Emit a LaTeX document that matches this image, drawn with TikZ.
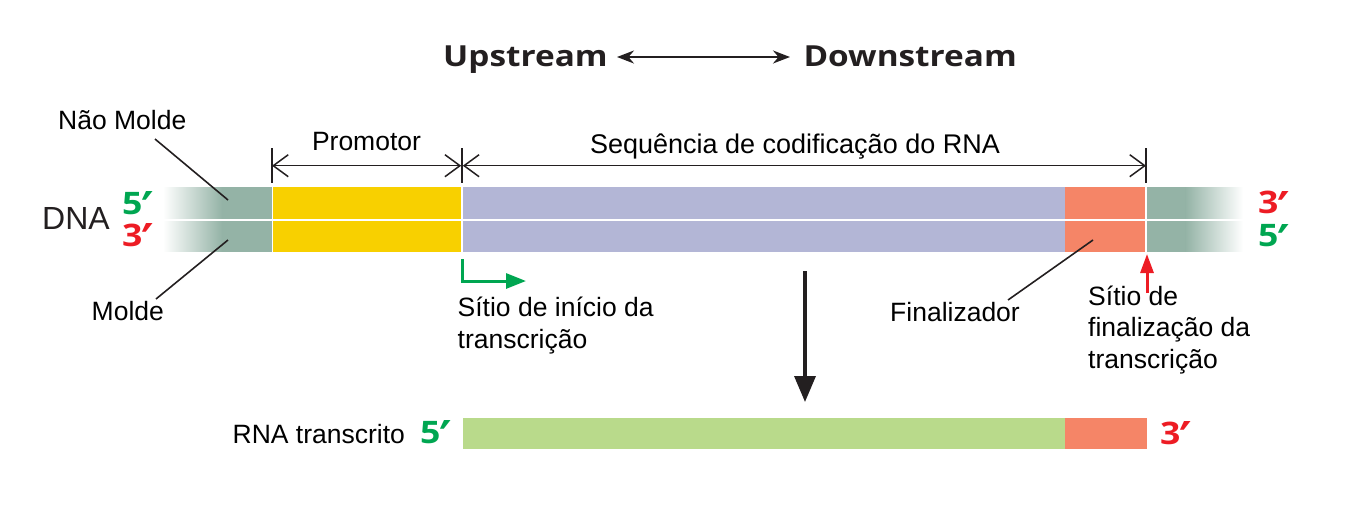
\documentclass[tikz,border=0pt]{standalone}
\usepackage{fontspec}
\setmainfont{Liberation Sans}
\newfontfamily\hdfont{Open Sans}[FakeStretch=1.15]
\newfontfamily\primefont{DejaVu Sans}
\newcommand\prm{\kern-1pt\raisebox{-12.5pt}[0pt][0pt]{\primefont\bfseries\fontsize{48}{50}\selectfont ′}\hspace{2pt}}
\usetikzlibrary{arrows.meta}
\definecolor{tealx}{HTML}{94B3A6}
\definecolor{yellowx}{HTML}{F8D000}
\definecolor{purplex}{HTML}{B3B6D6}
\definecolor{orangex}{HTML}{F58567}
\definecolor{rnagreen}{HTML}{B9DA8B}
\definecolor{primegreen}{HTML}{00A651}
\definecolor{primered}{HTML}{ED1C24}
\definecolor{darkline}{HTML}{231F20}
\begin{document}
\begin{tikzpicture}[x=1pt,y=-1pt,
  lbl/.style={font=\fontsize{26.5}{31.5}\selectfont, inner sep=0pt, align=left},
  hd/.style={font=\hdfont\bfseries\fontsize{29}{34}\selectfont, inner sep=0pt, text=darkline},
  prime/.style={font=\hdfont\bfseries\fontsize{31}{36}\selectfont, inner sep=0pt},
  pointer/.style={draw=darkline, line width=1.6pt},
  dimline/.style={draw=darkline, line width=1.5pt, {Straight Barb[length=15pt,width=22pt]}-{Straight Barb[length=15pt,width=22pt]}},
  tick/.style={draw=darkline, line width=1.5pt},
  sep/.style={draw=white}]
\useasboundingbox (0,0) rectangle (1357,515);

% ---------- header ----------
\node[hd, anchor=base west] (up) at (443,66) {Upstream};
\node[hd, anchor=base east] (down) at (1017,66) {Downstream};
\coordinate (ua) at (617,57);
\coordinate (da) at (790,57);
\draw[draw=darkline, line width=2pt, {Stealth[length=17pt,width=13pt]}-{Stealth[length=17pt,width=13pt]}] (ua) -- (da);

% ---------- DNA bars ----------
\shade[left color=white, right color=tealx] (163,187) rectangle (222,251.5);
\fill[tealx] (221.5,187) rectangle (272,251.5);
\fill[yellowx] (272,187) rectangle (461,251.5);
\fill[purplex] (463,187) rectangle (1065,251.5);
\fill[orangex] (1065,187) rectangle (1144.5,251.5);
\fill[tealx] (1147,187) rectangle (1186,251.5);
\shade[left color=tealx, right color=white] (1185.5,187) rectangle (1243,251.5);
\draw[sep, line width=2pt] (163,219.5) -- (1243,219.5);
\draw[sep, line width=1pt] (272,187) -- (272,251.5);

% ---------- DNA labels ----------
\node[lbl, font=\fontsize{32}{36}\selectfont, anchor=base west, text=darkline] (dna) at (42,229.5) {DNA};
\node[prime, anchor=base west, text=primegreen] (l5) at (122,214) {5\prm};
\node[prime, anchor=base west, text=primered] (l3) at (122,246) {3\prm};
\node[prime, anchor=base west, text=primered] (r3) at (1258,213.5) {3\prm};
\node[prime, anchor=base west, text=primegreen] (r5) at (1258,246.5) {5\prm};

\node[lbl, anchor=base west] (naomolde) at (58,129.5) {Não Molde};
\node[lbl, anchor=base west] (molde) at (91.5,320) {Molde};
\coordinate (nm1) at (155,139);
\coordinate (nm2) at (228,200);
\coordinate (m1) at (156,299);
\coordinate (m2) at (228,240);
\draw[pointer] (nm1) -- (nm2);
\draw[pointer] (m1) -- (m2);

% ---------- dimension lines ----------
\coordinate (t1a) at (272,148); \coordinate (t1b) at (272,183);
\coordinate (t2a) at (462,148); \coordinate (t2b) at (462,183);
\coordinate (t3a) at (1146,148); \coordinate (t3b) at (1146,183);
\draw[tick] (t1a) -- (t1b);
\draw[tick] (t2a) -- (t2b);
\draw[tick] (t3a) -- (t3b);
\coordinate (p1) at (272,165.7); \coordinate (p2) at (461.2,165.7);
\coordinate (s1) at (462.8,165.7); \coordinate (s2) at (1146,165.7);
\draw[dimline] (p1) -- (p2);
\draw[dimline] (s1) -- (s2);
\node[lbl, anchor=base] (promotor) at (366.5,150.5) {Promotor};
\node[lbl, font=\fontsize{27}{31.5}\selectfont, anchor=base] (seq) at (795,153.3) {Sequência de codificação do RNA};

% white separators
\draw[sep, line width=2pt] (462,187) -- (462,251.5);
\draw[sep, line width=2.5pt] (1145.8,187) -- (1145.8,251.5);

% ---------- start site ----------
\coordinate (st1) at (462,259);
\coordinate (st2) at (462,281);
\coordinate (st3) at (526,281);
\draw[draw=primegreen, line width=3pt, -{Triangle[length=20pt,width=15pt]}] (st1) -- (st2) -- (st3);
\node[lbl, anchor=base west] (inicio) at (457.5,348) {Sítio de início da\\transcrição};

% ---------- terminator ----------
\node[lbl, anchor=base west] (final) at (890,321.5) {Finalizador};
\coordinate (f1) at (1008,300);
\coordinate (f2) at (1093,240);
\draw[pointer] (f1) -- (f2);
\coordinate (r1) at (1147,293);
\coordinate (r2) at (1147,254);
\draw[draw=primered, line width=3pt, -{Triangle[length=19pt,width=13pt]}] (r1) -- (r2);
\node[lbl, anchor=base west] (fsite) at (1088,368) {Sítio de\\finalização da\\transcrição};

% ---------- transcription arrow ----------
\coordinate (d1) at (805,271);
\coordinate (d2) at (805,402);
\draw[draw=darkline, line width=3.5pt, -{Triangle[length=26pt,width=21pt]}] (d1) -- (d2);

% ---------- RNA ----------
\fill[rnagreen] (463,417.5) rectangle (1065,449);
\fill[orangex] (1065,417.5) rectangle (1146.5,449);
\node[lbl, anchor=base west] (rnat) at (232.5,443) {RNA transcrito};
\node[prime, anchor=base west, text=primegreen] (rna5) at (420,443) {5\prm};
\node[prime, anchor=base west, text=primered] (rna3) at (1160,444) {3\prm};
\end{tikzpicture}
\end{document}
